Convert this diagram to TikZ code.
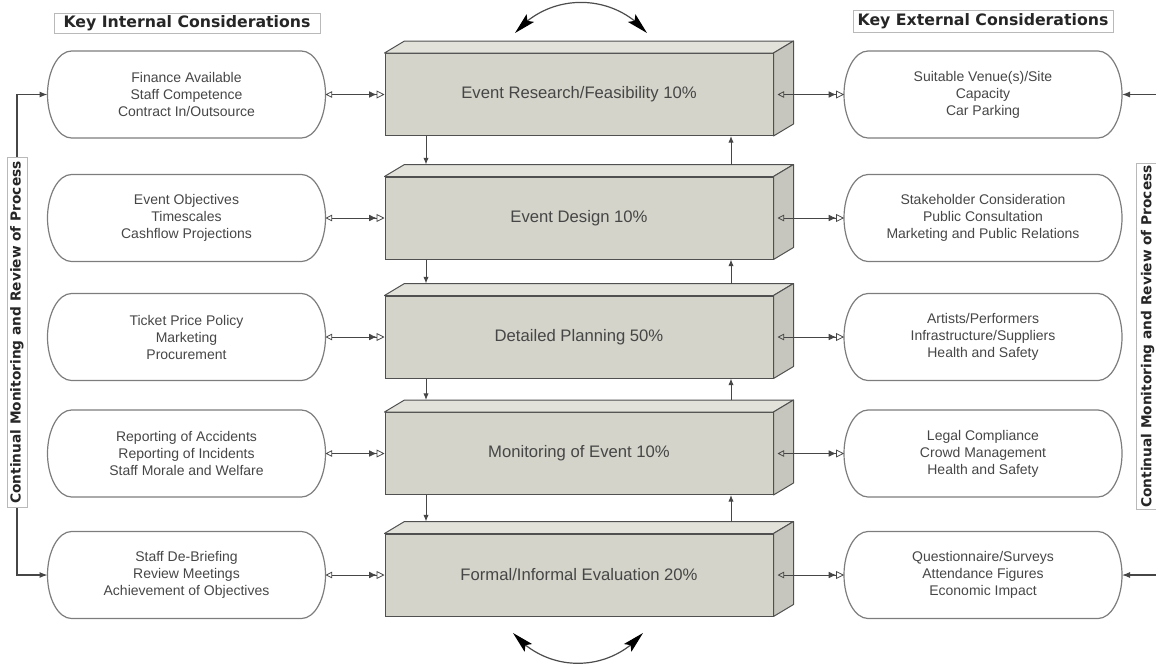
\documentclass[tikz,border=0pt]{standalone}
\usepackage{fontspec}
\setmainfont{Liberation Sans}
\newfontfamily\headfont{DejaVu Sans}
\usetikzlibrary{arrows.meta,bending,calc}

\definecolor{facefront}{RGB}{212,212,203}
\definecolor{facetop}{RGB}{226,226,219}
\definecolor{faceside}{RGB}{198,198,190}
\definecolor{edgegray}{RGB}{80,80,80}
\definecolor{rimgray}{RGB}{125,125,125}
\definecolor{inkgray}{RGB}{70,70,70}

\tikzset{every picture/.style={line width=0.75pt}}
\tikzset{
  stagebox/.style={draw=edgegray, fill=facefront, minimum width=291pt, minimum height=61.5pt, inner sep=0pt, text=inkgray, font=\fontsize{12.5}{15}\selectfont},
  topface/.style={draw=edgegray, fill=facetop, line join=round},
  sideface/.style={draw=edgegray, fill=faceside, line join=round},
  factorbox/.style={minimum width=207.75pt, minimum height=64.5pt, inner sep=0pt, align=center, text=inkgray, font=\fontsize{10.5}{12.75}\selectfont},
  rim/.style={draw=rimgray, line width=0.9pt},
  headbox/.style={draw=gray!55, line width=0.6pt, inner sep=0pt, text=black!85, font=\headfont\bfseries\fontsize{11.8}{13}\selectfont},
  reviewbox/.style={draw=gray!55, fill=white, rotate=90, inner sep=0pt, line width=0.6pt, text=black!85, font=\headfont\bfseries\fontsize{10.3}{12}\selectfont},
  link/.style={draw=inkgray, line width=0.6pt, {Triangle[open,length=5pt,width=5pt]}-{Latex[length=5.5pt,width=5pt]Triangle[open,length=6pt,width=6pt]}},
  stepflow/.style={draw=inkgray, line width=0.7pt, -{Latex[length=5pt,width=4pt]}},
  feed/.style={draw=inkgray, line width=0.8pt, -{Latex[length=6pt,width=4.5pt]}},
  swing/.style={draw=gray!60!black, line width=0.9pt, {Stealth[length=16pt,width=8pt,inset=3pt,color=black]}-{Stealth[length=16pt,width=8pt,inset=3pt,color=black]}},
}

\begin{document}
\begin{tikzpicture}[x=0.75pt,y=0.75pt,yscale=-1,xscale=1]
	\useasboundingbox (0,0) rectangle (1156,664);
	
	% Headings
	\node[headbox, minimum width=199.5pt, minimum height=15pt] (inhead) at (187,23) {Key Internal Considerations};
	\node[headbox, minimum width=195pt, minimum height=16.5pt] (exhead) at (983,21.5) {Key External Considerations};
	
	% Stages
	\node[stagebox] (c1) at (579,94.5) {Event Research/Feasibility 10\%};
	\node[stagebox] (c2) at (579,218) {Event Design 10\%};
	\node[stagebox] (c3) at (579,337) {Detailed Planning 50\%};
	\node[stagebox] (c4) at (579,453.5) {Monitoring of Event 10\%};
	\node[stagebox] (c5) at (579,575) {Formal/Informal Evaluation 20\%};
	
	% 3D faces of the stages
	\foreach \c in {c1,c2,c3,c4,c5}{
		\draw[topface] (\c.north west) -- ++(20,-12) -- ($(\c.north east)+(20,-12)$) -- (\c.north east) -- cycle;
		\draw[sideface] (\c.north east) -- ++(20,-12) -- ($(\c.south east)+(20,-12)$) -- (\c.south east) -- cycle;
	}
	
	% Internal considerations
	\node[factorbox] (i1) at (186.5,94.5) {Finance Available\\Staff Competence\\Contract In/Outsource};
	\node[factorbox] (i2) at (186.5,218) {Event Objectives\\Timescales\\Cashflow Projections};
	\node[factorbox] (i3) at (186.5,337) {Ticket Price Policy\\Marketing\\Procurement};
	\node[factorbox] (i4) at (186.5,453.5) {Reporting of Accidents\\Reporting of Incidents\\Staff Morale and Welfare};
	\node[factorbox] (i5) at (186.5,575) {Staff De-Briefing\\Review Meetings\\Achievement of Objectives};
	
	% External considerations
	\node[factorbox] (e1) at (983,94.5) {Suitable Venue(s)/Site\\Capacity\\Car Parking};
	\node[factorbox] (e2) at (983,218) {Stakeholder Consideration\\Public Consultation\\Marketing and Public Relations};
	\node[factorbox] (e3) at (983,337) {Artists/Performers\\Infrastructure/Suppliers\\Health and Safety};
	\node[factorbox] (e4) at (983,453.5) {Legal Compliance\\Crowd Management\\Health and Safety};
	\node[factorbox] (e5) at (983,575) {Questionnaire/Surveys\\Attendance Figures\\Economic Impact};
	
	% Outlines with elliptic ends
	\foreach \n in {i1,i2,i3,i4,i5,e1,e2,e3,e4,e5}{
		\draw[rim] ($(\n.north west)+(24,0)$) -- ($(\n.north east)+(-24,0)$)
		.. controls ($(\n.north east)+(-10.8,0)$) and ($(\n.east)+(0,-23.7)$) .. (\n.east)
		.. controls ($(\n.east)+(0,23.7)$) and ($(\n.south east)+(-10.8,0)$) .. ($(\n.south east)+(-24,0)$)
		-- ($(\n.south west)+(24,0)$)
		.. controls ($(\n.south west)+(10.8,0)$) and ($(\n.west)+(0,23.7)$) .. (\n.west)
		.. controls ($(\n.west)+(0,-23.7)$) and ($(\n.north west)+(10.8,0)$) .. ($(\n.north west)+(24,0)$) -- cycle;
	}
	
	% Review labels
	\node[reviewbox, minimum width=263pt, minimum height=15pt] (lbl) at (17,332.5) {Continual Monitoring and Review of Process};
	\node[reviewbox, minimum width=260pt, minimum height=17pt] (rlbl) at (1147.5,336.5) {Continual Monitoring and Review of Process};
	
	% Connection
	\foreach \n in {1,...,5}{
		\draw[link] (i\n.east) -- (c\n.west);
		\draw[link] ([xshift=3pt]c\n.east) -- (e\n.west);
	}
	
	% Connection
	\coordinate (dnx) at (426,0);
	\coordinate (upx) at (731,0);
	\foreach \a/\b in {c1/c2,c2/c3,c3/c4,c4/c5}{
		\draw[stepflow] (\a.south -| dnx) -- ($(\b.north -| dnx)+(0,-12)$);
		\draw[stepflow] ($(\b.north -| upx)+(0,-12)$) -- (\a.south -| upx);
	}
	
	% Connection
	\draw[feed] (lbl.east) |- (i1.west);
	\draw[feed] (lbl.west) |- (i5.west);
	\draw[feed] (rlbl.south east) |- (e1.east);
	\draw[feed] (rlbl.south west) |- (e5.east);
	
	% Curved arrows
	\coordinate (ta) at (515,33);
	\coordinate (tb) at (647,33);
	\draw[swing] (ta) .. controls (549.3,-7.8) and (612.7,-7.8) .. (tb);
	\coordinate (ba) at (513,633);
	\coordinate (bb) at (643,633);
	\draw[swing] (ba) .. controls (547.3,673.4) and (608.7,673.4) .. (bb);
	
\end{tikzpicture}
\end{document}
